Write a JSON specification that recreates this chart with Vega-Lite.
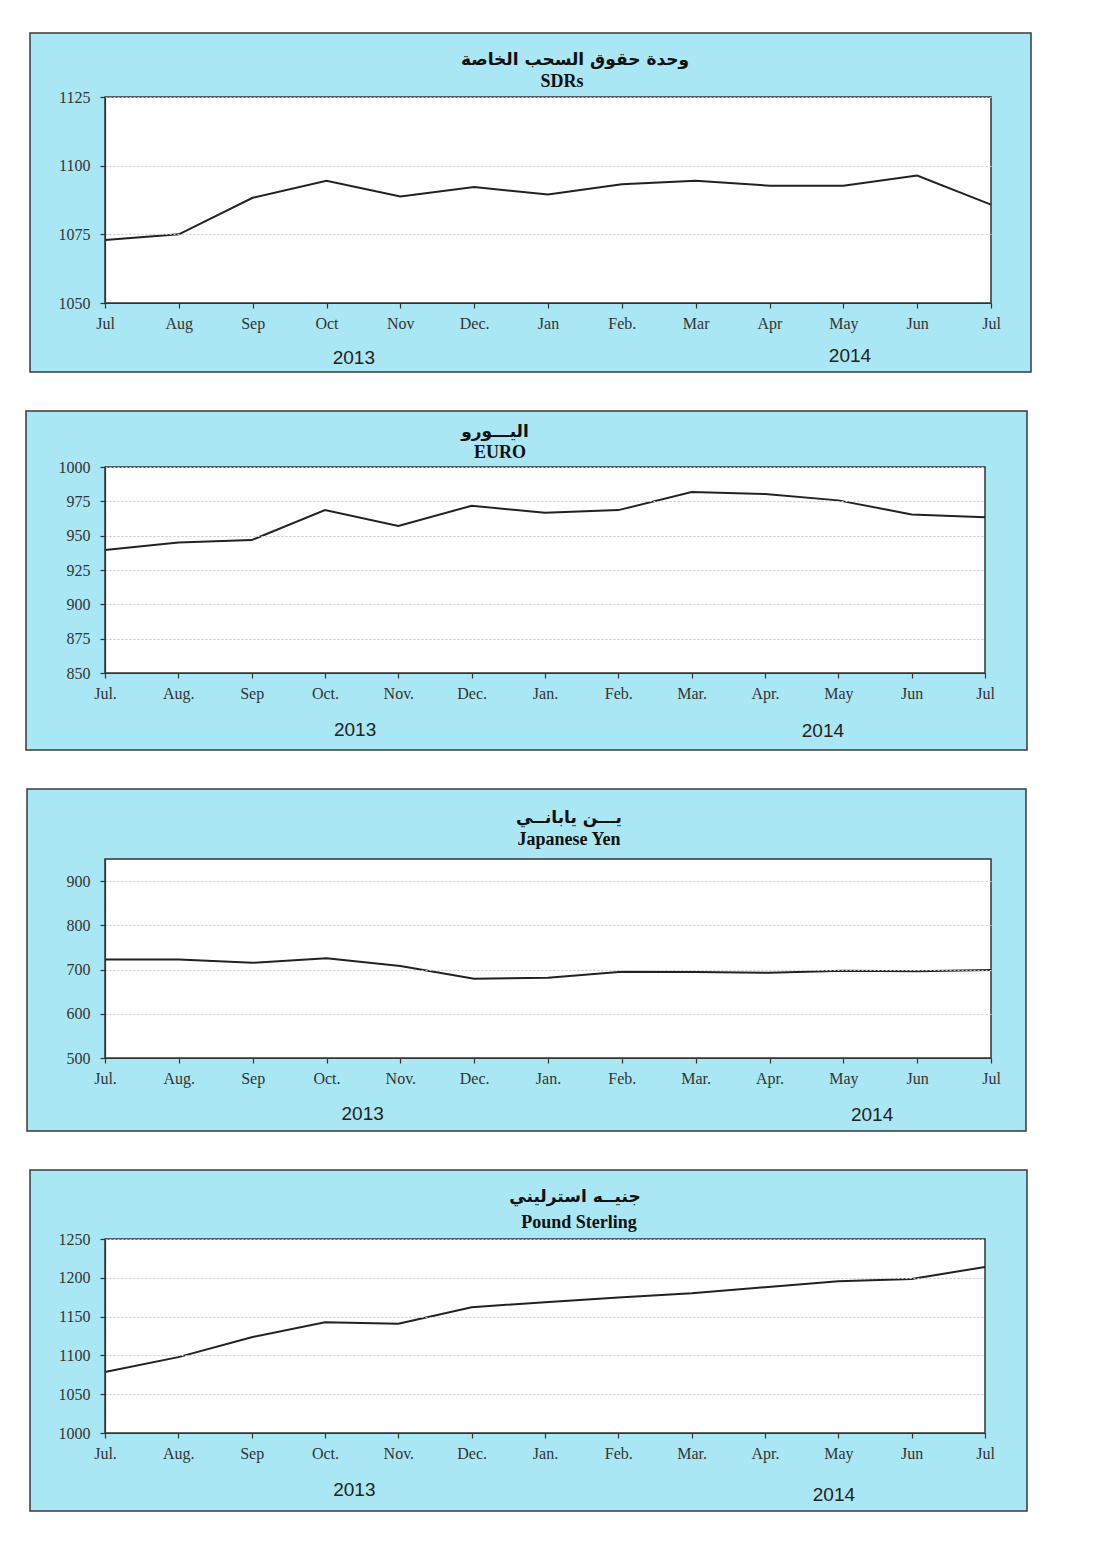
{
  "$schema": "https://vega.github.io/schema/vega-lite/v6.json",
  "background": "white",
  "padding": {"left": 25, "top": 32, "right": 0, "bottom": 0},
  "spacing": 37,
  "datasets": {
    "sdr": [
      {"i": 0, "month": "Jul", "year": 2013, "rate": 1072.9},
      {"i": 1, "month": "Aug", "year": 2013, "rate": 1075.0},
      {"i": 2, "month": "Sep", "year": 2013, "rate": 1088.3},
      {"i": 3, "month": "Oct", "year": 2013, "rate": 1094.5},
      {"i": 4, "month": "Nov", "year": 2013, "rate": 1088.8},
      {"i": 5, "month": "Dec", "year": 2013, "rate": 1092.2},
      {"i": 6, "month": "Jan", "year": 2014, "rate": 1089.5},
      {"i": 7, "month": "Feb", "year": 2014, "rate": 1093.2},
      {"i": 8, "month": "Mar", "year": 2014, "rate": 1094.5},
      {"i": 9, "month": "Apr", "year": 2014, "rate": 1092.7},
      {"i": 10, "month": "May", "year": 2014, "rate": 1092.7},
      {"i": 11, "month": "Jun", "year": 2014, "rate": 1096.4},
      {"i": 12, "month": "Jul", "year": 2014, "rate": 1085.8}
    ],
    "euro": [
      {"i": 0, "month": "Jul", "year": 2013, "rate": 939.5},
      {"i": 1, "month": "Aug", "year": 2013, "rate": 945.1},
      {"i": 2, "month": "Sep", "year": 2013, "rate": 946.8},
      {"i": 3, "month": "Oct", "year": 2013, "rate": 968.6},
      {"i": 4, "month": "Nov", "year": 2013, "rate": 957.0},
      {"i": 5, "month": "Dec", "year": 2013, "rate": 971.8},
      {"i": 6, "month": "Jan", "year": 2014, "rate": 966.7},
      {"i": 7, "month": "Feb", "year": 2014, "rate": 968.6},
      {"i": 8, "month": "Mar", "year": 2014, "rate": 981.8},
      {"i": 9, "month": "Apr", "year": 2014, "rate": 980.3},
      {"i": 10, "month": "May", "year": 2014, "rate": 975.7},
      {"i": 11, "month": "Jun", "year": 2014, "rate": 965.5},
      {"i": 12, "month": "Jul", "year": 2014, "rate": 963.5}
    ],
    "yen": [
      {"i": 0, "month": "Jul", "year": 2013, "rate": 722.8},
      {"i": 1, "month": "Aug", "year": 2013, "rate": 722.8},
      {"i": 2, "month": "Sep", "year": 2013, "rate": 715.3},
      {"i": 3, "month": "Oct", "year": 2013, "rate": 725.8},
      {"i": 4, "month": "Nov", "year": 2013, "rate": 707.9},
      {"i": 5, "month": "Dec", "year": 2013, "rate": 679.4},
      {"i": 6, "month": "Jan", "year": 2014, "rate": 681.7},
      {"i": 7, "month": "Feb", "year": 2014, "rate": 695.1},
      {"i": 8, "month": "Mar", "year": 2014, "rate": 694.4},
      {"i": 9, "month": "Apr", "year": 2014, "rate": 692.9},
      {"i": 10, "month": "May", "year": 2014, "rate": 697.4},
      {"i": 11, "month": "Jun", "year": 2014, "rate": 695.9},
      {"i": 12, "month": "Jul", "year": 2014, "rate": 698.9}
    ],
    "gbp": [
      {"i": 0, "month": "Jul", "year": 2013, "rate": 1078.5},
      {"i": 1, "month": "Aug", "year": 2013, "rate": 1097.8},
      {"i": 2, "month": "Sep", "year": 2013, "rate": 1123.5},
      {"i": 3, "month": "Oct", "year": 2013, "rate": 1142.8},
      {"i": 4, "month": "Nov", "year": 2013, "rate": 1140.7},
      {"i": 5, "month": "Dec", "year": 2013, "rate": 1162.1},
      {"i": 6, "month": "Jan", "year": 2014, "rate": 1168.5},
      {"i": 7, "month": "Feb", "year": 2014, "rate": 1174.5},
      {"i": 8, "month": "Mar", "year": 2014, "rate": 1180.1},
      {"i": 9, "month": "Apr", "year": 2014, "rate": 1187.8},
      {"i": 10, "month": "May", "year": 2014, "rate": 1195.5},
      {"i": 11, "month": "Jun", "year": 2014, "rate": 1198.5},
      {"i": 12, "month": "Jul", "year": 2014, "rate": 1214.0}
    ]
  },
  "vconcat": [
    {
      "width": 886, "height": 206,
      "layer": [
        {"data": {"values": [{}]},
         "mark": {"type": "rect", "fill": "#aae7f4", "stroke": "#3a3a3a", "strokeWidth": 1.5, "xOffset": -75, "x2Offset": 40, "yOffset": -64, "y2Offset": 69},
         "encoding": {"x": {"datum": 0, "type": "quantitative"}, "x2": {"datum": 12}, "y": {"datum": 1125, "type": "quantitative", "axis": {"title": null, "zindex": 2, "format": "d", "values": [1050, 1075, 1100, 1125]}}, "y2": {"datum": 1050}}},
        {"data": {"values": [{}]},
         "mark": {"type": "rect", "fill": "white", "stroke": "#333", "strokeWidth": 1.5},
         "encoding": {"x": {"datum": 0, "type": "quantitative"}, "x2": {"datum": 12}, "y": {"datum": 1125, "type": "quantitative", "axis": {"title": null, "zindex": 2, "format": "d", "values": [1050, 1075, 1100, 1125]}}, "y2": {"datum": 1050}}},
        {"data": {"name": "sdr"},
         "mark": {"type": "line", "color": "#222", "strokeWidth": 2},
         "encoding": {
           "x": {"field": "i", "type": "quantitative", "scale": {"domain": [0, 12], "nice": false, "zero": false},
                 "axis": {"title": null, "zindex": 2, "values": [0,1,2,3,4,5,6,7,8,9,10,11,12], "labelExpr": "['Jul','Aug','Sep','Oct','Nov','Dec.','Jan','Feb.','Mar','Apr','May','Jun','Jul'][datum.value]"}},
           "y": {"field": "rate", "type": "quantitative", "scale": {"domain": [1050, 1125], "nice": false, "zero": false},
                 "axis": {"title": null, "zindex": 2, "format": "d", "values": [1050, 1075, 1100, 1125]}}}},
        {"data": {"values": [{}]},
         "mark": {"type": "text", "text": "وحدة حقوق السحب الخاصة", "font": "DejaVu Sans", "fontWeight": "bold", "fontSize": 17, "color": "#111", "baseline": "middle", "dx": 27, "dy": -37},
         "encoding": {"x": {"datum": 6, "type": "quantitative"}, "y": {"datum": 1125, "type": "quantitative", "axis": {"title": null, "zindex": 2, "format": "d", "values": [1050, 1075, 1100, 1125]}}}},
        {"data": {"values": [{}]},
         "mark": {"type": "text", "text": "SDRs", "font": "Liberation Serif", "fontWeight": "bold", "fontSize": 18, "color": "#111", "baseline": "middle", "dx": 14, "dy": -15},
         "encoding": {"x": {"datum": 6, "type": "quantitative"}, "y": {"datum": 1125, "type": "quantitative", "axis": {"title": null, "zindex": 2, "format": "d", "values": [1050, 1075, 1100, 1125]}}}},
        {"data": {"values": [{}]},
         "mark": {"type": "text", "text": "2013", "font": "Liberation Sans", "fontSize": 19, "color": "#222", "baseline": "middle", "dy": 55},
         "encoding": {"x": {"datum": 3.37, "type": "quantitative"}, "y": {"datum": 1050, "type": "quantitative", "axis": {"title": null, "zindex": 2, "format": "d", "values": [1050, 1075, 1100, 1125]}}}},
        {"data": {"values": [{}]},
         "mark": {"type": "text", "text": "2014", "font": "Liberation Sans", "fontSize": 19, "color": "#222", "baseline": "middle", "dy": 53},
         "encoding": {"x": {"datum": 10.09, "type": "quantitative"}, "y": {"datum": 1050, "type": "quantitative", "axis": {"title": null, "zindex": 2, "format": "d", "values": [1050, 1075, 1100, 1125]}}}}
      ]
    },
    {
      "width": 880, "height": 206,
      "layer": [
        {"data": {"values": [{}]},
         "mark": {"type": "rect", "fill": "#aae7f4", "stroke": "#3a3a3a", "strokeWidth": 1.5, "xOffset": -79, "x2Offset": 42, "yOffset": -56, "y2Offset": 77},
         "encoding": {"x": {"datum": 0, "type": "quantitative"}, "x2": {"datum": 12}, "y": {"datum": 1000, "type": "quantitative", "axis": {"title": null, "zindex": 2, "format": "d", "values": [850, 875, 900, 925, 950, 975, 1000]}}, "y2": {"datum": 850}}},
        {"data": {"values": [{}]},
         "mark": {"type": "rect", "fill": "white", "stroke": "#333", "strokeWidth": 1.5},
         "encoding": {"x": {"datum": 0, "type": "quantitative"}, "x2": {"datum": 12}, "y": {"datum": 1000, "type": "quantitative", "axis": {"title": null, "zindex": 2, "format": "d", "values": [850, 875, 900, 925, 950, 975, 1000]}}, "y2": {"datum": 850}}},
        {"data": {"name": "euro"},
         "mark": {"type": "line", "color": "#222", "strokeWidth": 2},
         "encoding": {
           "x": {"field": "i", "type": "quantitative", "scale": {"domain": [0, 12], "nice": false, "zero": false},
                 "axis": {"title": null, "zindex": 2, "values": [0,1,2,3,4,5,6,7,8,9,10,11,12], "labelExpr": "['Jul.','Aug.','Sep','Oct.','Nov.','Dec.','Jan.','Feb.','Mar.','Apr.','May','Jun','Jul'][datum.value]"}},
           "y": {"field": "rate", "type": "quantitative", "scale": {"domain": [850, 1000], "nice": false, "zero": false},
                 "axis": {"title": null, "zindex": 2, "format": "d", "values": [850, 875, 900, 925, 950, 975, 1000]}}}},
        {"data": {"values": [{}]},
         "mark": {"type": "text", "text": "اليـــورو", "font": "DejaVu Sans", "fontWeight": "bold", "fontSize": 17, "color": "#111", "baseline": "middle", "dx": -50, "dy": -35},
         "encoding": {"x": {"datum": 6, "type": "quantitative"}, "y": {"datum": 1000, "type": "quantitative", "axis": {"title": null, "zindex": 2, "format": "d", "values": [850, 875, 900, 925, 950, 975, 1000]}}}},
        {"data": {"values": [{}]},
         "mark": {"type": "text", "text": "EURO", "font": "Liberation Serif", "fontWeight": "bold", "fontSize": 18, "color": "#111", "baseline": "middle", "dx": -45, "dy": -14},
         "encoding": {"x": {"datum": 6, "type": "quantitative"}, "y": {"datum": 1000, "type": "quantitative", "axis": {"title": null, "zindex": 2, "format": "d", "values": [850, 875, 900, 925, 950, 975, 1000]}}}},
        {"data": {"values": [{}]},
         "mark": {"type": "text", "text": "2013", "font": "Liberation Sans", "fontSize": 19, "color": "#222", "baseline": "middle", "dy": 57},
         "encoding": {"x": {"datum": 3.41, "type": "quantitative"}, "y": {"datum": 850, "type": "quantitative", "axis": {"title": null, "zindex": 2, "format": "d", "values": [850, 875, 900, 925, 950, 975, 1000]}}}},
        {"data": {"values": [{}]},
         "mark": {"type": "text", "text": "2014", "font": "Liberation Sans", "fontSize": 19, "color": "#222", "baseline": "middle", "dy": 58},
         "encoding": {"x": {"datum": 9.79, "type": "quantitative"}, "y": {"datum": 850, "type": "quantitative", "axis": {"title": null, "zindex": 2, "format": "d", "values": [850, 875, 900, 925, 950, 975, 1000]}}}}
      ]
    },
    {
      "width": 886, "height": 199,
      "layer": [
        {"data": {"values": [{}]},
         "mark": {"type": "rect", "fill": "#aae7f4", "stroke": "#3a3a3a", "strokeWidth": 1.5, "xOffset": -78, "x2Offset": 35, "yOffset": -70, "y2Offset": 73},
         "encoding": {"x": {"datum": 0, "type": "quantitative"}, "x2": {"datum": 12}, "y": {"datum": 950, "type": "quantitative", "axis": {"title": null, "zindex": 2, "format": "d", "values": [500, 600, 700, 800, 900]}}, "y2": {"datum": 500}}},
        {"data": {"values": [{}]},
         "mark": {"type": "rect", "fill": "white", "stroke": "#333", "strokeWidth": 1.5},
         "encoding": {"x": {"datum": 0, "type": "quantitative"}, "x2": {"datum": 12}, "y": {"datum": 950, "type": "quantitative", "axis": {"title": null, "zindex": 2, "format": "d", "values": [500, 600, 700, 800, 900]}}, "y2": {"datum": 500}}},
        {"data": {"name": "yen"},
         "mark": {"type": "line", "color": "#222", "strokeWidth": 2},
         "encoding": {
           "x": {"field": "i", "type": "quantitative", "scale": {"domain": [0, 12], "nice": false, "zero": false},
                 "axis": {"title": null, "zindex": 2, "values": [0,1,2,3,4,5,6,7,8,9,10,11,12], "labelExpr": "['Jul.','Aug.','Sep','Oct.','Nov.','Dec.','Jan.','Feb.','Mar.','Apr.','May','Jun','Jul'][datum.value]"}},
           "y": {"field": "rate", "type": "quantitative", "scale": {"domain": [500, 950], "nice": false, "zero": false},
                 "axis": {"title": null, "zindex": 2, "format": "d", "values": [500, 600, 700, 800, 900]}}}},
        {"data": {"values": [{}]},
         "mark": {"type": "text", "text": "يـــن يابانــي", "font": "DejaVu Sans", "fontWeight": "bold", "fontSize": 17, "color": "#111", "baseline": "middle", "dx": 21, "dy": -41},
         "encoding": {"x": {"datum": 6, "type": "quantitative"}, "y": {"datum": 950, "type": "quantitative", "axis": {"title": null, "zindex": 2, "format": "d", "values": [500, 600, 700, 800, 900]}}}},
        {"data": {"values": [{}]},
         "mark": {"type": "text", "text": "Japanese Yen", "font": "Liberation Serif", "fontWeight": "bold", "fontSize": 18, "color": "#111", "baseline": "middle", "dx": 21, "dy": -19},
         "encoding": {"x": {"datum": 6, "type": "quantitative"}, "y": {"datum": 950, "type": "quantitative", "axis": {"title": null, "zindex": 2, "format": "d", "values": [500, 600, 700, 800, 900]}}}},
        {"data": {"values": [{}]},
         "mark": {"type": "text", "text": "2013", "font": "Liberation Sans", "fontSize": 19, "color": "#222", "baseline": "middle", "dy": 56},
         "encoding": {"x": {"datum": 3.49, "type": "quantitative"}, "y": {"datum": 500, "type": "quantitative", "axis": {"title": null, "zindex": 2, "format": "d", "values": [500, 600, 700, 800, 900]}}}},
        {"data": {"values": [{}]},
         "mark": {"type": "text", "text": "2014", "font": "Liberation Sans", "fontSize": 19, "color": "#222", "baseline": "middle", "dy": 57},
         "encoding": {"x": {"datum": 10.39, "type": "quantitative"}, "y": {"datum": 500, "type": "quantitative", "axis": {"title": null, "zindex": 2, "format": "d", "values": [500, 600, 700, 800, 900]}}}}
      ]
    },
    {
      "width": 880, "height": 194,
      "layer": [
        {"data": {"values": [{}]},
         "mark": {"type": "rect", "fill": "#aae7f4", "stroke": "#3a3a3a", "strokeWidth": 1.5, "xOffset": -75, "x2Offset": 42, "yOffset": -69, "y2Offset": 78},
         "encoding": {"x": {"datum": 0, "type": "quantitative"}, "x2": {"datum": 12}, "y": {"datum": 1250, "type": "quantitative", "axis": {"title": null, "zindex": 2, "format": "d", "values": [1000, 1050, 1100, 1150, 1200, 1250]}}, "y2": {"datum": 1000}}},
        {"data": {"values": [{}]},
         "mark": {"type": "rect", "fill": "white", "stroke": "#333", "strokeWidth": 1.5},
         "encoding": {"x": {"datum": 0, "type": "quantitative"}, "x2": {"datum": 12}, "y": {"datum": 1250, "type": "quantitative", "axis": {"title": null, "zindex": 2, "format": "d", "values": [1000, 1050, 1100, 1150, 1200, 1250]}}, "y2": {"datum": 1000}}},
        {"data": {"name": "gbp"},
         "mark": {"type": "line", "color": "#222", "strokeWidth": 2},
         "encoding": {
           "x": {"field": "i", "type": "quantitative", "scale": {"domain": [0, 12], "nice": false, "zero": false},
                 "axis": {"title": null, "zindex": 2, "values": [0,1,2,3,4,5,6,7,8,9,10,11,12], "labelExpr": "['Jul.','Aug.','Sep','Oct.','Nov.','Dec.','Jan.','Feb.','Mar.','Apr.','May','Jun','Jul'][datum.value]"}},
           "y": {"field": "rate", "type": "quantitative", "scale": {"domain": [1000, 1250], "nice": false, "zero": false},
                 "axis": {"title": null, "zindex": 2, "format": "d", "values": [1000, 1050, 1100, 1150, 1200, 1250]}}}},
        {"data": {"values": [{}]},
         "mark": {"type": "text", "text": "جنيــه استرليني", "font": "DejaVu Sans", "fontWeight": "bold", "fontSize": 17, "color": "#111", "baseline": "middle", "dx": 30, "dy": -42},
         "encoding": {"x": {"datum": 6, "type": "quantitative"}, "y": {"datum": 1250, "type": "quantitative", "axis": {"title": null, "zindex": 2, "format": "d", "values": [1000, 1050, 1100, 1150, 1200, 1250]}}}},
        {"data": {"values": [{}]},
         "mark": {"type": "text", "text": "Pound Sterling", "font": "Liberation Serif", "fontWeight": "bold", "fontSize": 18, "color": "#111", "baseline": "middle", "dx": 34, "dy": -16},
         "encoding": {"x": {"datum": 6, "type": "quantitative"}, "y": {"datum": 1250, "type": "quantitative", "axis": {"title": null, "zindex": 2, "format": "d", "values": [1000, 1050, 1100, 1150, 1200, 1250]}}}},
        {"data": {"values": [{}]},
         "mark": {"type": "text", "text": "2013", "font": "Liberation Sans", "fontSize": 19, "color": "#222", "baseline": "middle", "dy": 57},
         "encoding": {"x": {"datum": 3.40, "type": "quantitative"}, "y": {"datum": 1000, "type": "quantitative", "axis": {"title": null, "zindex": 2, "format": "d", "values": [1000, 1050, 1100, 1150, 1200, 1250]}}}},
        {"data": {"values": [{}]},
         "mark": {"type": "text", "text": "2014", "font": "Liberation Sans", "fontSize": 19, "color": "#222", "baseline": "middle", "dy": 62},
         "encoding": {"x": {"datum": 9.94, "type": "quantitative"}, "y": {"datum": 1000, "type": "quantitative", "axis": {"title": null, "zindex": 2, "format": "d", "values": [1000, 1050, 1100, 1150, 1200, 1250]}}}}
      ]
    }
  ],
  "config": {
    "view": {"stroke": null},
    "axis": {
      "labelFont": "Liberation Serif",
      "labelFontSize": 16,
      "labelColor": "#333",
      "labelOverlap": false,
      "tickColor": "#333",
      "tickSize": 5,
      "tickWidth": 1.2,
      "domainColor": "#333",
      "domainWidth": 1.2,
      "gridColor": "#c8c8c8",
      "gridDash": [2, 2]
    },
    "axisX": {"labelPadding": 7, "labelFlush": false, "grid": false},
    "axisY": {"labelPadding": 10, "grid": true}
  }
}
